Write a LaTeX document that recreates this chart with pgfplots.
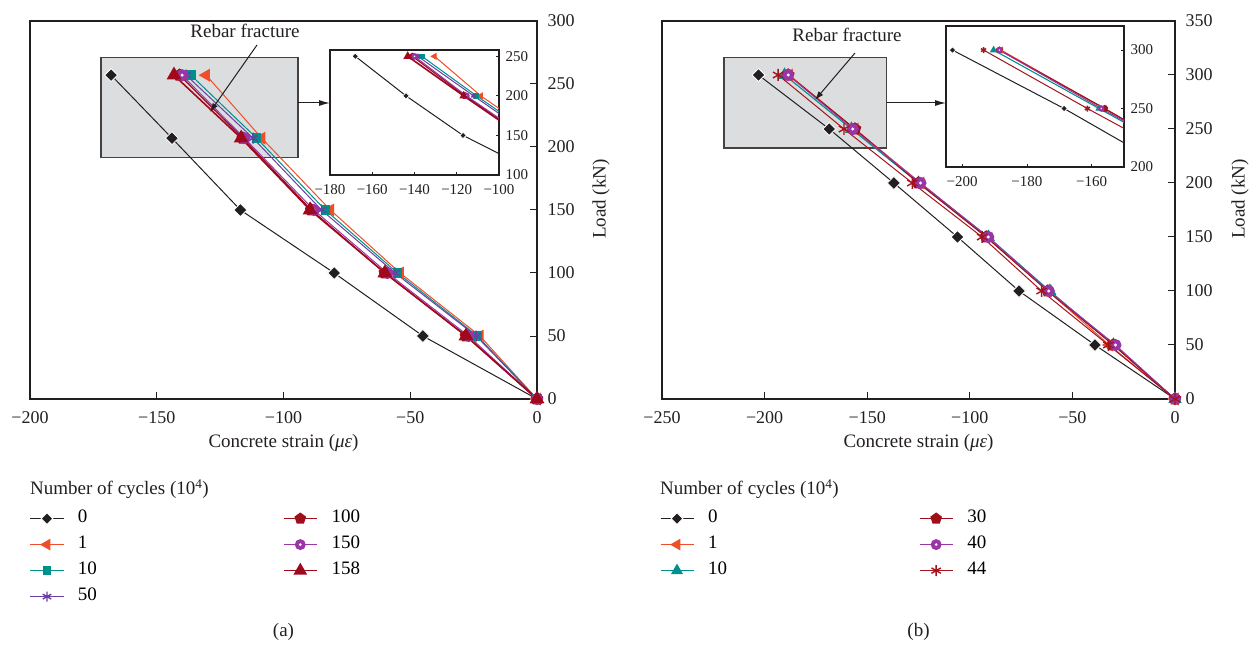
\documentclass[border=0pt]{standalone}
\usepackage{fontspec}
\setmainfont{Liberation Serif}
\usepackage{pgfplots}
\pgfplotsset{compat=1.18}
\usetikzlibrary{arrows.meta}

\definecolor{c0}{HTML}{231F20}
\definecolor{c1}{HTML}{F04E2A}
\definecolor{c10}{HTML}{00908C}
\definecolor{c50}{HTML}{6B3FA0}
\definecolor{c100}{HTML}{9E0F1A}
\definecolor{c150}{HTML}{9A35A6}
\definecolor{c158}{HTML}{A0081C}
\definecolor{c44}{HTML}{A3151D}
\definecolor{boxgray}{HTML}{DCDDDE}

\pgfdeclareplotmark{dotcircle}{%
  \pgfpathcircle{\pgfpointorigin}{\pgfplotmarksize}\pgfusepathqfillstroke
  \begin{pgfscope}%
  \pgfsetfillcolor{white}%
  \pgfpathcircle{\pgfpointorigin}{0.3\pgfplotmarksize}\pgfusepathqfill
  \end{pgfscope}}

\def\mscale{1}
\pgfplotsset{
  s0/.style={color=c0, line width=1pt, mark=square*, mark size=\mscale*4.6pt, mark options={rotate=45, solid, fill=c0, draw=white, line width=0.8pt}},
  s1/.style={color=c1, line width=1pt, mark=triangle*, mark size=\mscale*6.5pt, mark options={rotate=90, solid, fill=c1}},
  s10/.style={color=c10, line width=1pt, mark=square*, mark size=\mscale*4.3pt, mark options={solid, fill=c10}},
  s10t/.style={color=c10, line width=1.1pt, mark=triangle*, mark size=\mscale*6.5pt, mark options={solid, fill=c10}},
  s50/.style={color=c50, line width=1pt, mark=asterisk, mark size=\mscale*5.5pt, mark options={solid, line width=1.4pt}},
  s100/.style={color=c100, line width=1.2pt, mark=pentagon*, mark size=\mscale*6pt, mark options={solid, fill=c100}},
  s150/.style={color=c150, line width=1pt, mark=dotcircle, mark size=\mscale*5.5pt, mark options={solid, fill=c150, draw=c150}},
  s158/.style={color=c158, line width=1.6pt, mark=triangle*, mark size=\mscale*7pt, mark options={solid, fill=c158}},
  s44/.style={color=c44, line width=1pt, mark=asterisk, mark size=\mscale*6pt, mark options={solid, line width=1.4pt}},
  mainax/.style={
    scale only axis, anchor=south west,
    xtick pos=bottom, ytick pos=right, yticklabel pos=right,
    tick align=inside, major tick length=7pt,
    tick style={line width=1pt, color=c0},
    axis line style={line width=1.2pt, color=c0},
    ticklabel style={font=\fontsize{18}{20}\selectfont, color=c0},
    xticklabel style={yshift=-9pt},
    yticklabel style={xshift=7pt},
    legend cell align=left,
    legend image code/.code={\draw[mark repeat=2, mark phase=2, ##1, every mark/.append style={scale=0.9}] plot coordinates {(0pt,0pt) (16.5pt,0pt) (33pt,0pt)};},
    legend style={draw=none, fill=none, inner sep=0pt, outer sep=0pt, anchor=north west,
      font=\fontsize{19}{21}\selectfont, row sep=8pt,
      nodes={inner sep=0pt, text height=13pt, text depth=5pt},
      /tikz/every odd column/.style={column sep=14pt}},
    transpose legend,
  },
  insetax/.style={
    scale only axis, anchor=south west,
    xtick pos=bottom, ytick pos=right, yticklabel pos=right,
    tick align=inside, major tick length=3pt,
    tick style={line width=0.8pt, color=c0},
    axis line style={line width=1.1pt, color=c0},
    axis background/.style={fill=white},
    ticklabel style={font=\fontsize{15}{17}\selectfont, color=c0},
    yticklabel style={xshift=3pt},
    xticklabel style={yshift=-6pt},
  },
}

\begin{document}
\begin{tikzpicture}
\path[use as bounding box] (0pt,0pt) rectangle (1258pt,648pt);

% ===================== (a) main =====================
\def\mscale{1}
\begin{axis}[mainax, at={(30pt,249pt)}, width=507pt, height=378pt,
  xmin=-200, xmax=0, ymin=0, ymax=300,
  xtick={-200,-150,-100,-50,0}, xticklabels={−200,−150,−100,−50,0},
  ytick={0,50,100,150,200,250,300}, yticklabels={0,50,100,150,200,250,300},
  legend columns=4,
  legend style={at={(0,-0.2926)}},
]
\draw[fill=boxgray, draw=c0!85, line width=1.2pt] (axis cs:-172,191.5) rectangle (axis cs:-94.3,271.3);
\addplot[s0] coordinates {(0,0) (-45,50) (-80,100) (-117,150) (-144,207) (-168,257)};
\addlegendentry{\makebox[205pt][l]{0}}
\addplot[s1] coordinates {(0,0) (-22.5,50) (-54,100) (-81.5,150) (-108.6,207) (-130.5,257)};
\addlegendentry{\makebox[205pt][l]{1}}
\addplot[s10] coordinates {(0,0) (-23.5,50) (-55,100) (-83.5,150) (-110.6,207) (-136.5,257)};
\addlegendentry{\makebox[205pt][l]{10}}
\addplot[s50] coordinates {(0,0) (-24,50) (-56,100) (-85,150) (-112,207) (-138.4,257)};
\addlegendentry{\makebox[205pt][l]{50}}
\addplot[s100] coordinates {(0,0) (-28,50) (-60,100) (-89,150) (-116,207) (-141,257)};
\addlegendentry{100}
\addplot[s150] coordinates {(0,0) (-27,50) (-59,100) (-88,150) (-115.4,207) (-140,257)};
\addlegendentry{150}
\addplot[s158] coordinates {(0,0) (-28,50) (-60,100) (-89.5,150) (-116.7,207) (-143.2,257)};
\addlegendentry{158}
\end{axis}

% ===================== (a) inset =====================
\def\mscale{0.5}
\begin{axis}[insetax, at={(330pt,473pt)}, width=169pt, height=125pt,
  xmin=-180, xmax=-100, ymin=100, ymax=258,
  xtick={-180,-160,-140,-120,-100}, xticklabels={−180,−160,−140,−120,−100},
  ytick={100,150,200,250}, yticklabels={100,150,200,250},
]
\addplot[s0] coordinates {(0,0) (-45,50) (-80,100) (-117,150) (-144,200) (-168,250)};
\addplot[s1] coordinates {(-81.5,150) (-108.6,200) (-130.5,250)};
\addplot[s10] coordinates {(-83.5,150) (-110.6,200) (-136.5,250)};
\addplot[s50] coordinates {(-85,150) (-112,200) (-138.4,250)};
\addplot[s100] coordinates {(-89,150) (-116,200) (-141,250)};
\addplot[s150] coordinates {(-88,150) (-115.4,200) (-140,250)};
\addplot[s158] coordinates {(-89.5,150) (-116.7,200) (-143.2,250)};
\end{axis}

% ===================== (b) main =====================
\def\mscale{1}
\begin{axis}[mainax, at={(662pt,249pt)}, width=513pt, height=378pt,
  xmin=-250, xmax=0, ymin=0, ymax=350,
  xtick={-250,-200,-150,-100,-50,0}, xticklabels={−250,−200,−150,−100,−50,0},
  ytick={0,50,100,150,200,250,300,350}, yticklabels={0,50,100,150,200,250,300,350},
  legend columns=3,
  legend style={at={(-0.004,-0.2926)}},
]
\draw[fill=boxgray, draw=c0!85, line width=1.2pt] (axis cs:-219.8,232.4) rectangle (axis cs:-140.5,316.2);
\addplot[s0] coordinates {(0,0) (-39,50) (-76,100) (-106,150) (-137,200) (-168.5,250) (-203,300)};
\addlegendentry{\makebox[211pt][l]{0}}
\addplot[s1] coordinates {(0,0) (-32,50) (-62,100) (-92,150) (-124,200) (-156,250) (-188,300)};
\addlegendentry{\makebox[211pt][l]{1}}
\addplot[s10t] coordinates {(0,0) (-30,50) (-61,100) (-91,150) (-125,200) (-157.7,250) (-190.3,300)};
\addlegendentry{\makebox[211pt][l]{10}}
\addplot[s100] coordinates {(0,0) (-30,50) (-62,100) (-92,150) (-125,200) (-156,250) (-188.5,300)};
\addlegendentry{30}
\addplot[s150] coordinates {(0,0) (-29,50) (-61.5,100) (-91,150) (-124,200) (-157,250) (-188.5,300)};
\addlegendentry{40}
\addplot[s44] coordinates {(0,0) (-32.5,50) (-65,100) (-94,150) (-128,200) (-161.3,250) (-193.4,300)};
\addlegendentry{44}
\end{axis}

% ===================== (b) inset =====================
\def\mscale{0.5}
\begin{axis}[insetax, at={(946pt,481pt)}, width=178pt, height=141pt,
  xmin=-205, xmax=-150, ymin=200, ymax=320.6,
  xtick={-200,-180,-160}, xticklabels={−200,−180,−160},
  ytick={200,250,300}, yticklabels={200,250,300},
]
\addplot[s0] coordinates {(-137,200) (-168.5,250) (-203,300)};
\addplot[s1] coordinates {(-124,200) (-156,250) (-188,300)};
\addplot[s10t] coordinates {(-125,200) (-157.7,250) (-190.3,300)};
\addplot[s100] coordinates {(-125,200) (-156,250) (-188.5,300)};
\addplot[s150] coordinates {(-124,200) (-157,250) (-188.5,300)};
\addplot[s44] coordinates {(-128,200) (-161.3,250) (-193.4,300)};
\end{axis}

% ===================== annotations =====================
\begin{scope}[font=\fontsize{19}{21}\selectfont, color=c0, x=1pt, y=1pt]
\node at (245,617) {Rebar fracture};
\draw[line width=1pt, -{Latex[length=9pt,width=6pt]}] (257,603) -- (210,536);
\draw[line width=1pt, -{Latex[length=11pt,width=6pt]}] (298,545) -- (330,545);
\node at (847,613) {Rebar fracture};
\draw[line width=1pt, -{Latex[length=9pt,width=6pt]}] (855,595) -- (815,548);
\draw[line width=1pt, -{Latex[length=11pt,width=6pt]}] (887,545) -- (946,545);

\node[anchor=base] at (283.5,200) {Concrete strain (\textit{με})};
\node[anchor=base] at (918.5,200) {Concrete strain (\textit{με})};
\node[rotate=90] at (601,449) {Load (kN)};
\node[rotate=90] at (1240,449) {Load (kN)};
\node[anchor=base west, inner sep=0pt] at (30,153) {Number of cycles (10\textsuperscript{4})};
\node[anchor=base west, inner sep=0pt] at (660,153) {Number of cycles (10\textsuperscript{4})};
\node at (283.5,16) {(a)};
\node at (918.5,16) {(b)};
\end{scope}
\end{tikzpicture}
\end{document}
